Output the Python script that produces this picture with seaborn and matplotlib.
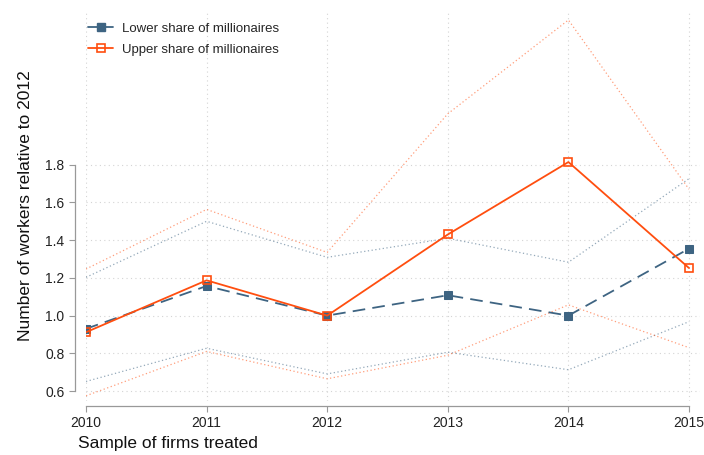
import matplotlib
matplotlib.use("Agg")
import matplotlib.pyplot as plt
from matplotlib.lines import Line2D
import seaborn as sns
import pandas as pd

years = [2010, 2011, 2012, 2013, 2014, 2015]
lower_share = [0.93, 1.157, 1.0, 1.108, 1.0, 1.355]
lower_ci_hi = [1.203, 1.50, 1.309, 1.41, 1.283, 1.726]
lower_ci_lo = [0.651, 0.827, 0.691, 0.806, 0.713, 0.968]
upper_share = [0.912, 1.187, 1.0, 1.43, 1.814, 1.252]
upper_ci_hi = [1.247, 1.563, 1.335, 2.07, 2.567, 1.67]
upper_ci_lo = [0.575, 0.81, 0.665, 0.79, 1.057, 0.83]
y_ticks = [0.6, 0.8, 1.0, 1.2, 1.4, 1.6, 1.8]
labels = ["Lower share of millionaires", "Upper share of millionaires"]

BLUE = "#3e6482"
ORANGE = "#ff4e0f"

sns.set_style("white")
plt.rcParams["font.family"] = ["Liberation Sans", "DejaVu Sans"]

df = pd.DataFrame({
    "year": years,
    "lo": lower_share, "lo_hi": lower_ci_hi, "lo_lo": lower_ci_lo,
    "up": upper_share, "up_hi": upper_ci_hi, "up_lo": upper_ci_lo,
})

fig = plt.figure(figsize=(7.04, 4.55), dpi=100)
ax = fig.add_axes([86 / 704, 1 - 400.5 / 455, (700 - 86) / 704, (400.5 - 10) / 455])

# grid
for yt in y_ticks:
    ax.axhline(yt, color="#d4d4d4", lw=0.8, ls=(0, (1, 3)), zorder=0)
for x in years:
    ax.axvline(x, color="#d4d4d4", lw=0.8, ls=(0, (1, 3)), zorder=0)

# confidence bounds
for col, c in [("lo_hi", BLUE), ("lo_lo", BLUE), ("up_hi", ORANGE), ("up_lo", ORANGE)]:
    sns.lineplot(data=df, x="year", y=col, ax=ax, color=c, lw=0.9,
                 linestyle=(0, (1, 2)), alpha=0.55, legend=False)

sns.lineplot(data=df, x="year", y="lo", ax=ax, color=BLUE, lw=1.3,
             linestyle=(0, (7, 4)), marker="s", markersize=5.5,
             markerfacecolor=BLUE, markeredgecolor=BLUE, legend=False, zorder=3)
sns.lineplot(data=df, x="year", y="up", ax=ax, color=ORANGE, lw=1.3,
             marker="s", markersize=5.5, markerfacecolor="none",
             markeredgecolor=ORANGE, markeredgewidth=1.2, legend=False, zorder=4)

ax.set_xlim(2010, 2015.091)
ax.set_ylim(0.55, 2.62)
ax.set_xticks(years)
ax.set_xticklabels([str(y) for y in years])
ax.set_yticks(y_ticks)
ax.set_yticklabels([f"{v:.1f}" for v in y_ticks])
ax.tick_params(axis="both", labelsize=10, colors="#222222", length=4, width=0.8,
               direction="out", left=True, bottom=True)
ax.tick_params(axis="both", color="#999999")

for s in ["top", "right"]:
    ax.spines[s].set_visible(False)
ax.spines["left"].set_position(("outward", 8))
ax.spines["bottom"].set_position(("outward", 4))
ax.spines["left"].set_bounds(0.6, 1.8)
ax.spines["bottom"].set_bounds(2010, 2015)
for s in ["left", "bottom"]:
    ax.spines[s].set_color("#999999")
    ax.spines[s].set_linewidth(0.9)

ax.set_ylabel("Number of workers relative to 2012", fontsize=12.5, color="#111111", labelpad=9)
ax.set_xlabel("Sample of firms treated", fontsize=12.5, color="#111111", loc="left")
ax.xaxis.label.set_x(-0.013)

handles = [
    Line2D([], [], color=BLUE, lw=1.3, marker="s", markersize=5.5,
           markerfacecolor=BLUE, markeredgecolor=BLUE),
    Line2D([], [], color=ORANGE, lw=1.3, marker="s", markersize=5.5,
           markerfacecolor="none", markeredgecolor=ORANGE, markeredgewidth=1.2),
]
ax.legend(handles, labels, loc="upper left", bbox_to_anchor=(-0.0114, 0.992),
          frameon=False, fontsize=9.5, handlelength=1.9, handletextpad=0.65,
          labelspacing=0.68, borderaxespad=0.3)

fig.savefig("out.png", dpi=100)
